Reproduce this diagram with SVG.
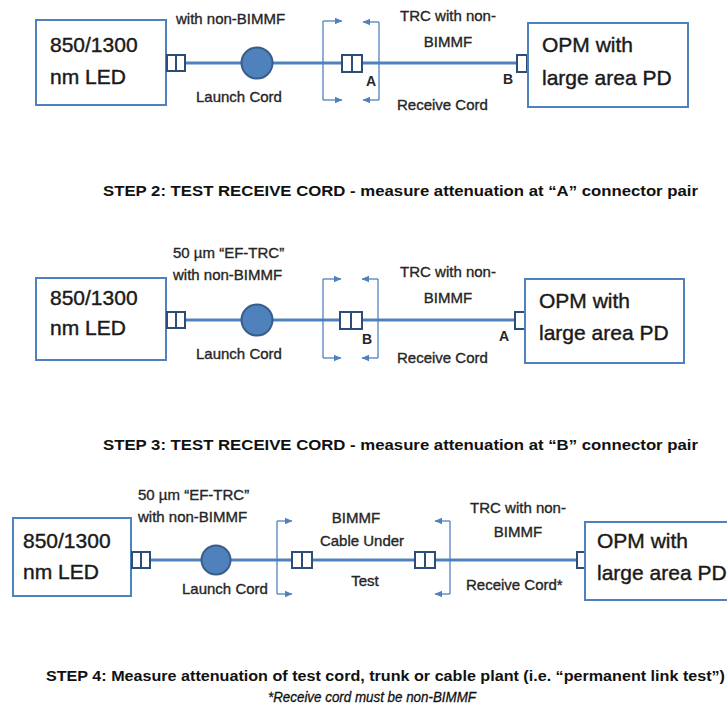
<svg xmlns="http://www.w3.org/2000/svg" width="727" height="709" viewBox="0 0 727 709">
<defs>
<marker id="ah" markerWidth="8" markerHeight="8" refX="7" refY="4" orient="auto" markerUnits="userSpaceOnUse">
<path d="M0,0.8 L7.5,4 L0,7.2 Z" fill="#4f81bd"/>
</marker>
<style>
.box{fill:#fff;stroke:#4f81bd;stroke-width:2}
.fiber{stroke:#4f81bd;stroke-width:3;fill:none}
.conn{fill:#fff;stroke:#2c4d78;stroke-width:2}
.spool{fill:#4f81bd;stroke:#385d8a;stroke-width:2}
.brk{stroke:#4f81bd;stroke-width:1.3;fill:none}
.arw{stroke:#4f81bd;stroke-width:1.3;fill:none;marker-end:url(#ah)}
text{font-family:"Liberation Sans",Arial,sans-serif;fill:#262626}
.big{font-size:21px;fill:#1a1a1a;stroke:#1a1a1a;stroke-width:0.4}
.lbl{font-size:15px;stroke:#262626;stroke-width:0.35}
.pt{font-size:14px;font-weight:bold}
.step{font-size:15px;font-weight:bold;fill:#111}
.note{font-size:14px;font-style:italic;fill:#111;stroke:#111;stroke-width:0.3}
</style>
</defs>
<rect width="727" height="709" fill="#fff"/>

<!-- connectors (fibers and bracket arrows) -->
<g id="connectors">
<line class="fiber" x1="186" y1="63" x2="341" y2="63"/>
<line class="fiber" x1="363" y1="63" x2="517" y2="63"/>
<line class="fiber" x1="185" y1="320" x2="339" y2="320"/>
<line class="fiber" x1="362" y1="320" x2="515" y2="320"/>
<line class="fiber" x1="151" y1="560" x2="292" y2="560"/>
<line class="fiber" x1="311" y1="560" x2="415" y2="560"/>
<line class="fiber" x1="435" y1="560" x2="577" y2="560"/>
<!-- section 1 brackets -->
<line class="brk" x1="323" y1="21" x2="323" y2="100"/>
<line class="arw" x1="323" y1="21" x2="342" y2="21"/>
<line class="arw" x1="323" y1="100" x2="342" y2="100"/>
<line class="brk" x1="379" y1="22" x2="379" y2="100"/>
<line class="arw" x1="379" y1="22" x2="363" y2="22"/>
<line class="arw" x1="379" y1="100" x2="363" y2="100"/>
<!-- section 2 brackets -->
<line class="brk" x1="323" y1="279" x2="323" y2="358"/>
<line class="arw" x1="323" y1="279" x2="341" y2="279"/>
<line class="arw" x1="323" y1="358" x2="341" y2="358"/>
<line class="brk" x1="378" y1="279" x2="378" y2="358"/>
<line class="arw" x1="378" y1="279" x2="362" y2="279"/>
<line class="arw" x1="378" y1="358" x2="362" y2="358"/>
<!-- section 3 brackets -->
<line class="brk" x1="277" y1="521" x2="277" y2="594"/>
<line class="arw" x1="277" y1="521" x2="292" y2="521"/>
<line class="arw" x1="277" y1="594" x2="292" y2="594"/>
<line class="brk" x1="450" y1="521" x2="450" y2="594"/>
<line class="arw" x1="450" y1="521" x2="435" y2="521"/>
<line class="arw" x1="450" y1="594" x2="435" y2="594"/>
</g>

<!-- ===== Section 1 ===== -->
<g id="led1">
<rect class="box" x="36" y="20" width="130" height="85"/>
<text class="big" x="50" y="52">850/1300</text>
<text class="big" x="50" y="84">nm LED</text>
<rect class="conn" x="167" y="55" width="9" height="16"/>
<rect class="conn" x="176" y="55" width="9" height="16"/>
</g>
<g id="launch1">
<circle class="spool" cx="257" cy="63" r="15.5"/>
<text class="lbl" x="176" y="24">with non-BIMMF</text>
<text class="lbl" x="196" y="102">Launch Cord</text>
</g>
<g id="pairA1">
<rect class="conn" x="342" y="55" width="10" height="17"/>
<rect class="conn" x="352" y="55" width="10" height="17"/>
<text class="pt" x="366" y="86">A</text>
</g>
<g id="receive1">
<text class="lbl" x="448" y="21" text-anchor="middle">TRC with non-</text>
<text class="lbl" x="448" y="47" text-anchor="middle">BIMMF</text>
<text class="lbl" x="397" y="110">Receive Cord</text>
<text class="pt" x="503" y="84">B</text>
</g>
<g id="opm1">
<rect class="conn" x="517" y="55" width="10" height="17"/>
<rect class="box" x="528" y="23" width="160" height="84"/>
<text class="big" x="542" y="52">OPM with</text>
<text class="big" x="542" y="85">large area PD</text>
</g>
<g id="step2">
<text class="step" x="103" y="196" textLength="595" lengthAdjust="spacingAndGlyphs">STEP 2: TEST RECEIVE CORD - measure attenuation at “A” connector pair</text>
</g>

<!-- ===== Section 2 ===== -->
<g id="led2">
<rect class="box" x="36" y="278" width="130" height="82"/>
<text class="big" x="50" y="305">850/1300</text>
<text class="big" x="50" y="335">nm LED</text>
<rect class="conn" x="167" y="312" width="9" height="16"/>
<rect class="conn" x="176" y="312" width="9" height="16"/>
</g>
<g id="launch2">
<circle class="spool" cx="257" cy="320" r="15.5"/>
<text class="lbl" x="173" y="258">50 µm “EF-TRC”</text>
<text class="lbl" x="173" y="280">with non-BIMMF</text>
<text class="lbl" x="196" y="359">Launch Cord</text>
</g>
<g id="pairB2">
<rect class="conn" x="340" y="312" width="11" height="17"/>
<rect class="conn" x="351" y="312" width="11" height="17"/>
<text class="pt" x="362" y="344">B</text>
</g>
<g id="receive2">
<text class="lbl" x="448" y="277" text-anchor="middle">TRC with non-</text>
<text class="lbl" x="448" y="303" text-anchor="middle">BIMMF</text>
<text class="lbl" x="397" y="363">Receive Cord</text>
<text class="pt" x="499" y="341">A</text>
</g>
<g id="opm2">
<rect class="conn" x="515" y="312" width="10" height="17"/>
<rect class="box" x="525" y="279" width="159" height="84"/>
<text class="big" x="539" y="308">OPM with</text>
<text class="big" x="539" y="340">large area PD</text>
</g>
<g id="step3">
<text class="step" x="103" y="450" textLength="595" lengthAdjust="spacingAndGlyphs">STEP 3: TEST RECEIVE CORD - measure attenuation at “B” connector pair</text>
</g>

<!-- ===== Section 3 ===== -->
<g id="led3">
<rect class="box" x="13" y="518" width="118" height="78"/>
<text class="big" x="23" y="548">850/1300</text>
<text class="big" x="23" y="579">nm LED</text>
<rect class="conn" x="132" y="552" width="9" height="16"/>
<rect class="conn" x="141" y="552" width="9" height="16"/>
</g>
<g id="launch3">
<circle class="spool" cx="216" cy="560" r="14.5"/>
<text class="lbl" x="138" y="500">50 µm “EF-TRC”</text>
<text class="lbl" x="138" y="522">with non-BIMMF</text>
<text class="lbl" x="182" y="594">Launch Cord</text>
</g>
<g id="cut">
<rect class="conn" x="292" y="552" width="10" height="16"/>
<rect class="conn" x="302" y="552" width="10" height="16"/>
<text class="lbl" x="356" y="523" text-anchor="middle">BIMMF</text>
<text class="lbl" x="362" y="546" text-anchor="middle">Cable Under</text>
<text class="lbl" x="365" y="586" text-anchor="middle">Test</text>
<rect class="conn" x="415" y="552" width="10" height="16"/>
<rect class="conn" x="425" y="552" width="10" height="16"/>
</g>
<g id="receive3">
<text class="lbl" x="518" y="513" text-anchor="middle">TRC with non-</text>
<text class="lbl" x="518" y="537" text-anchor="middle">BIMMF</text>
<text class="lbl" x="466" y="590">Receive Cord*</text>
</g>
<g id="opm3">
<rect class="conn" x="577" y="552" width="8" height="16"/>
<rect class="box" x="585" y="522" width="160" height="78"/>
<text class="big" x="597" y="548">OPM with</text>
<text class="big" x="597" y="580">large area PD</text>
</g>
<g id="step4">
<text class="step" x="46" y="681" textLength="679" lengthAdjust="spacingAndGlyphs">STEP 4: Measure attenuation of test cord, trunk or cable plant (i.e. “permanent link test”)</text>
<text class="note" x="372" y="702" text-anchor="middle" textLength="208" lengthAdjust="spacingAndGlyphs">*Receive cord must be non-BIMMF</text>
</g>
</svg>
